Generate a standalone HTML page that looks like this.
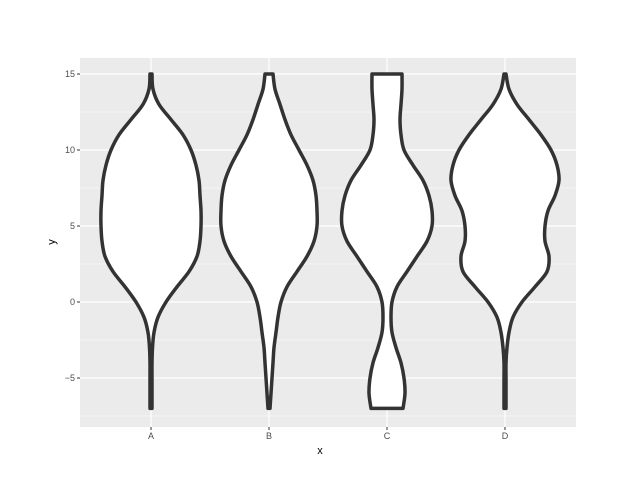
<!DOCTYPE html>
<html><head><meta charset="utf-8"><style>
body{margin:0;background:#fff;font-family:"Liberation Sans",sans-serif}
</style></head><body>
<svg id="chart" width="640" height="480" xmlns="http://www.w3.org/2000/svg">
<rect x="0" y="0" width="640" height="480" fill="#fff"/>
<rect x="80" y="58" width="496" height="369" fill="#EBEBEB"/>
<g id="grid"></g><g id="violins"></g><g id="axes"></g>
<text x="320" y="454" font-size="11" text-anchor="middle" fill="#000">x</text>
<text x="55" y="242" font-size="11" text-anchor="middle" fill="#000" transform="rotate(-90 55 242)">y</text>
</svg>
<script>
const categories=["A","B","C","D"];
const yLevels=[15,14,13,12,11,10,9,8,7,6,5,4,3,2,1,0,-1,-2,-3,-4,-5,-6,-7];
// half-widths in category units (1 = spacing between categories)
const widthA=[1,2,8,20,32,40,45,48,49,50,50,49,46,38,26,15,7,3,1.5,1,1,1,1].map(v=>v/118);
const widthB=[4,6,11,16,22,30,38,44,47,48,48,45,38,28,18,12,9,7,5,4,3,2,1].map(v=>v/118);
const widthC=[15,15,14,13,14,17,26,36,42,45,45,40,30,20,10,5,4,5,9,14,17,18,16].map(v=>v/118);
const widthD=[1,4,12,24,36,46,52,54,50,43,40,40,44,42,30,17,8,4,2,1,1,1,1].map(v=>v/118);
const widths=[widthA,widthB,widthC,widthD];
const yTicks=[15,10,5,0,-5];
const yTickLabels=["15","10","5","0","\u22125"];
const yMinor=[12.5,7.5,2.5,-2.5,-7.5];

const NS="http://www.w3.org/2000/svg";
const sx=i=>151+i*118;
const sy=v=>302-v*15.2;
const ux=118;
function mk(tag,attrs,parent){const e=document.createElementNS(NS,tag);for(const k in attrs)e.setAttribute(k,attrs[k]);parent.appendChild(e);return e;}
const grid=document.getElementById('grid'),vg=document.getElementById('violins'),ax=document.getElementById('axes');
yMinor.forEach(v=>{const l=mk('line',{x1:80,x2:576,y1:sy(v),y2:sy(v),stroke:'#fff','stroke-width':0.6},grid);

});
yTicks.forEach((v,i)=>{const l=mk('line',{x1:80,x2:576,y1:sy(v),y2:sy(v),stroke:'#fff','stroke-width':1.2},grid);


const t=mk('line',{x1:77,x2:80,y1:sy(v),y2:sy(v),stroke:'#333'},ax);


const tx=mk('text',{x:75,y:sy(v)+3,'font-size':9,'text-anchor':'end',fill:'#4d4d4d'},ax);tx.textContent=yTickLabels[i];

});
categories.forEach((c,i)=>{const l=mk('line',{x1:sx(i),x2:sx(i),y1:58,y2:427,stroke:'#fff','stroke-width':1.2},grid);


const t=mk('line',{x1:sx(i),x2:sx(i),y1:427,y2:430,stroke:'#333'},ax);


const tx=mk('text',{x:sx(i),y:439,'font-size':9,'text-anchor':'middle',fill:'#4d4d4d'},ax);tx.textContent=c;

});
function spline(pts){let d=`M${pts[0][0]},${pts[0][1]}`;for(let i=0;i<pts.length-1;i++){const p0=pts[Math.max(0,i-1)],p1=pts[i],p2=pts[i+1],p3=pts[Math.min(pts.length-1,i+2)];
d+=` C${p1[0]+(p2[0]-p0[0])/6},${p1[1]+(p2[1]-p0[1])/6} ${p2[0]-(p3[0]-p1[0])/6},${p2[1]-(p3[1]-p1[1])/6} ${p2[0]},${p2[1]}`;}return d;}
categories.forEach((c,i)=>{const w=widths[i];
const right=yLevels.map((y,j)=>[sx(i)+w[j]*ux,sy(y)]);
const left=yLevels.map((y,j)=>[sx(i)-w[j]*ux,sy(y)]).reverse();
let d=spline(right)+" L"+left[0][0]+","+left[0][1]+spline(left).replace(/^M[^C]*/,' ')+" Z";
const p=mk('path',{d:d,fill:'#fff',stroke:'#333','stroke-width':3.5,'stroke-linejoin':'round'},vg);

});
</script>
</body></html>
